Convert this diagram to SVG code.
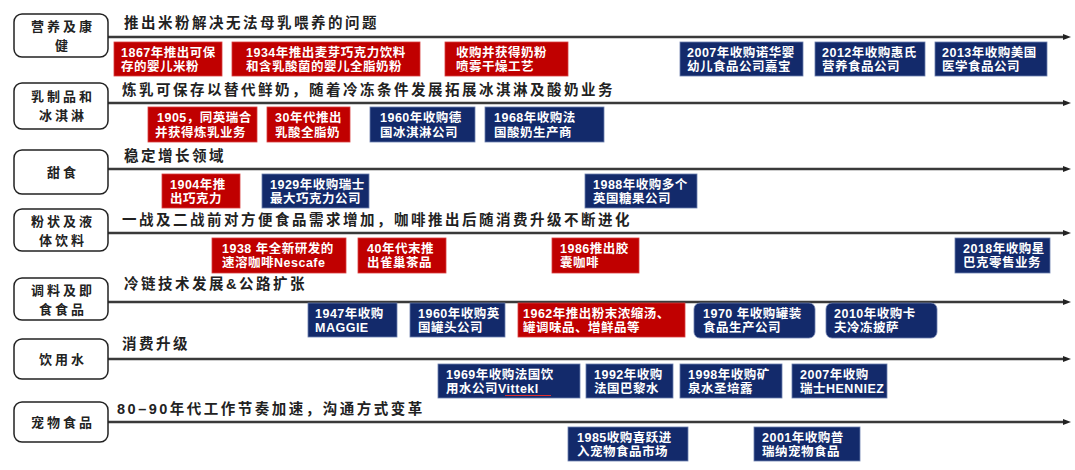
<svg xmlns="http://www.w3.org/2000/svg" width="1075" height="470" viewBox="0 0 1075 470">
<style>
.cat{fill:#fff;stroke:#222;stroke-width:1.5}
.ct{font-family:"Noto Sans CJK SC",sans-serif;font-size:13px;font-weight:600;letter-spacing:3px;fill:#222;text-anchor:middle}
.ht{font-family:"Liberation Sans","Noto Sans CJK SC",sans-serif;font-size:14.5px;font-weight:600;letter-spacing:2.5px;fill:#222}
.ln{stroke:#3a3a3a;stroke-width:2.5;fill:none}
.r{fill:#c00000;stroke:#d84040;stroke-width:0.8}
.b{fill:#132a6b;stroke:#6d7fae;stroke-width:0.8}
.bt{font-family:"Liberation Sans","Noto Sans CJK SC",sans-serif;font-size:12.5px;font-weight:bold;letter-spacing:0.5px;fill:#fff}
</style>
<defs>
<marker id="arr" markerWidth="8" markerHeight="6" refX="1" refY="3" orient="auto" markerUnits="userSpaceOnUse">
<path d="M0,0 L8,3 L0,6 z" fill="#222"/>
</marker>
</defs>

<g id="connectors">
<line class="ln" x1="108" y1="37" x2="1064" y2="37" marker-end="url(#arr)"/>
<line class="ln" x1="108" y1="103" x2="1064" y2="103" marker-end="url(#arr)"/>
<line class="ln" x1="108" y1="169" x2="1064" y2="169" marker-end="url(#arr)"/>
<line class="ln" x1="108" y1="233" x2="1064" y2="233" marker-end="url(#arr)"/>
<line class="ln" x1="108" y1="302" x2="1064" y2="302" marker-end="url(#arr)"/>
<line class="ln" x1="108" y1="359" x2="1064" y2="359" marker-end="url(#arr)"/>
<line class="ln" x1="108" y1="422" x2="1064" y2="422" marker-end="url(#arr)"/>
</g>

<!-- Row 1 -->
<g id="cat-nutrition"><rect class="cat" x="14" y="14" width="94" height="43" rx="8"/><text class="ct" x="63" y="31">营养及康</text><text class="ct" x="63" y="50">健</text></g>
<g id="head-nutrition"><text class="ht" x="124" y="28">推出米粉解决无法母乳喂养的问题</text></g>
<g id="n1867"><rect class="r" x="114" y="42" width="108" height="34"/><text class="bt" x="121" y="57">1867年推出可保</text><text class="bt" x="121" y="71">存的婴儿米粉</text></g>
<g id="n1934"><rect class="r" x="232" y="42" width="188" height="34"/><text class="bt" x="246" y="57">1934年推出麦芽巧克力饮料</text><text class="bt" x="246" y="71">和含乳酸菌的婴儿全脂奶粉</text></g>
<g id="nspray"><rect class="r" x="445" y="42" width="123" height="34"/><text class="bt" x="456" y="57">收购并获得奶粉</text><text class="bt" x="456" y="71">喷雾干燥工艺</text></g>
<g id="n2007g"><rect class="b" x="680" y="42" width="123" height="34"/><text class="bt" x="687" y="57">2007年收购诺华婴</text><text class="bt" x="687" y="71">幼儿食品公司嘉宝</text></g>
<g id="n2012"><rect class="b" x="815" y="42" width="110" height="34"/><text class="bt" x="822" y="57">2012年收购惠氏</text><text class="bt" x="822" y="71">营养食品公司</text></g>
<g id="n2013"><rect class="b" x="935" y="42" width="112" height="34"/><text class="bt" x="942" y="57">2013年收购美国</text><text class="bt" x="942" y="71">医学食品公司</text></g>

<!-- Row 2 -->
<g id="cat-dairy"><rect class="cat" x="14" y="83" width="94" height="46" rx="8"/><text class="ct" x="63" y="101">乳制品和</text><text class="ct" x="63" y="120">冰淇淋</text></g>
<g id="head-dairy"><text class="ht" x="122" y="95">炼乳可保存以替代鲜奶，随着冷冻条件发展拓展冰淇淋及酸奶业务</text></g>
<g id="n1905"><rect class="r" x="148" y="107" width="109" height="35"/><text class="bt" x="157" y="122">1905，同英瑞合</text><text class="bt" x="155" y="137">并获得炼乳业务</text></g>
<g id="n30s"><rect class="r" x="267" y="107" width="83" height="35"/><text class="bt" x="275" y="122">30年代推出</text><text class="bt" x="275" y="137">乳酸全脂奶</text></g>
<g id="n1960d"><rect class="b" x="370" y="107" width="105" height="35"/><text class="bt" x="380" y="122">1960年收购德</text><text class="bt" x="380" y="137">国冰淇淋公司</text></g>
<g id="n1968"><rect class="b" x="485" y="107" width="119" height="35"/><text class="bt" x="494" y="122">1968年收购法</text><text class="bt" x="494" y="137">国酸奶生产商</text></g>

<!-- Row 3 -->
<g id="cat-sweets"><rect class="cat" x="14" y="150" width="94" height="44" rx="8"/><text class="ct" x="63" y="177">甜食</text></g>
<g id="head-sweets"><text class="ht" x="124" y="161">稳定增长领域</text></g>
<g id="n1904"><rect class="r" x="162" y="174" width="78" height="34"/><text class="bt" x="170" y="189">1904年推</text><text class="bt" x="170" y="203">出巧克力</text></g>
<g id="n1929"><rect class="b" x="262" y="174" width="107" height="34"/><text class="bt" x="270" y="189">1929年收购瑞士</text><text class="bt" x="270" y="203">最大巧克力公司</text></g>
<g id="n1988"><rect class="b" x="585" y="174" width="112" height="34"/><text class="bt" x="593" y="189">1988年收购多个</text><text class="bt" x="593" y="203">英国糖果公司</text></g>

<!-- Row 4 -->
<g id="cat-drinks"><rect class="cat" x="14" y="209" width="94" height="42" rx="8"/><text class="ct" x="63" y="226">粉状及液</text><text class="ct" x="63" y="245">体饮料</text></g>
<g id="head-drinks"><text class="ht" x="122" y="225">一战及二战前对方便食品需求增加，咖啡推出后随消费升级不断进化</text></g>
<g id="n1938"><rect class="r" x="212" y="238" width="134" height="35"/><text class="bt" x="222" y="253">1938 年全新研发的</text><text class="bt" x="222" y="267">速溶咖啡Nescafe</text></g>
<g id="n40s"><rect class="r" x="358" y="238" width="88" height="35"/><text class="bt" x="367" y="253">40年代末推</text><text class="bt" x="367" y="267">出雀巢茶品</text></g>
<g id="n1986"><rect class="r" x="552" y="238" width="87" height="35"/><text class="bt" x="560" y="253">1986推出胶</text><text class="bt" x="560" y="267">囊咖啡</text></g>
<g id="n2018"><rect class="b" x="955" y="238" width="95" height="35"/><text class="bt" x="963" y="253">2018年收购星</text><text class="bt" x="963" y="267">巴克零售业务</text></g>

<!-- Row 5 -->
<g id="cat-seasoning"><rect class="cat" x="14" y="278" width="94" height="42" rx="8"/><text class="ct" x="63" y="295">调料及即</text><text class="ct" x="63" y="314">食食品</text></g>
<g id="head-seasoning"><text class="ht" x="124" y="289">冷链技术发展&amp;公路扩张</text></g>
<g id="n1947"><rect class="b" x="308" y="303" width="89" height="34"/><text class="bt" x="315" y="318">1947年收购</text><text class="bt" x="315" y="332">MAGGIE</text></g>
<g id="n1960e"><rect class="b" x="410" y="303" width="95" height="34"/><text class="bt" x="418" y="318">1960年收购英</text><text class="bt" x="418" y="332">国罐头公司</text></g>
<g id="n1962"><rect class="r" x="518" y="303" width="167" height="34"/><text class="bt" x="523" y="318">1962年推出粉末浓缩汤、</text><text class="bt" x="523" y="332">罐调味品、增鲜品等</text></g>
<g id="n1970"><rect class="b" x="694" y="303" width="121" height="35" rx="6"/><text class="bt" x="703" y="318">1970 年收购罐装</text><text class="bt" x="703" y="332">食品生产公司</text></g>
<g id="n2010"><rect class="b" x="826" y="303" width="111" height="35" rx="6"/><text class="bt" x="834" y="318">2010年收购卡</text><text class="bt" x="834" y="332">夫冷冻披萨</text></g>

<!-- Row 6 -->
<g id="cat-water"><rect class="cat" x="14" y="339" width="94" height="40" rx="8"/><text class="ct" x="63" y="364">饮用水</text></g>
<g id="head-water"><text class="ht" x="122" y="349">消费升级</text></g>
<g id="n1969"><rect class="b" x="438" y="364" width="142" height="34"/><text class="bt" x="446" y="379">1969年收购法国饮</text><text class="bt" x="446" y="393">用水公司Vittekl</text><line x1="505" y1="395.5" x2="551" y2="395.5" stroke="#e03030" stroke-width="1"/></g>
<g id="n1992"><rect class="b" x="586" y="364" width="87" height="34"/><text class="bt" x="594" y="379">1992年收购</text><text class="bt" x="594" y="393">法国巴黎水</text></g>
<g id="n1998"><rect class="b" x="680" y="364" width="102" height="34"/><text class="bt" x="688" y="379">1998年收购矿</text><text class="bt" x="688" y="393">泉水圣培露</text></g>
<g id="n2007h"><rect class="b" x="792" y="364" width="95" height="34"/><text class="bt" x="800" y="379">2007年收购</text><text class="bt" x="800" y="393">瑞士HENNIEZ</text></g>

<!-- Row 7 -->
<g id="cat-pet"><rect class="cat" x="14" y="402" width="94" height="40" rx="8"/><text class="ct" x="63" y="427">宠物食品</text></g>
<g id="head-pet"><text class="ht" x="117" y="414">80–90年代工作节奏加速，沟通方式变革</text></g>
<g id="n1985"><rect class="b" x="568" y="427" width="120" height="34"/><text class="bt" x="577" y="442">1985收购喜跃进</text><text class="bt" x="577" y="456">入宠物食品市场</text></g>
<g id="n2001"><rect class="b" x="754" y="427" width="106" height="34"/><text class="bt" x="762" y="442">2001年收购普</text><text class="bt" x="762" y="456">瑞纳宠物食品</text></g>
</svg>
